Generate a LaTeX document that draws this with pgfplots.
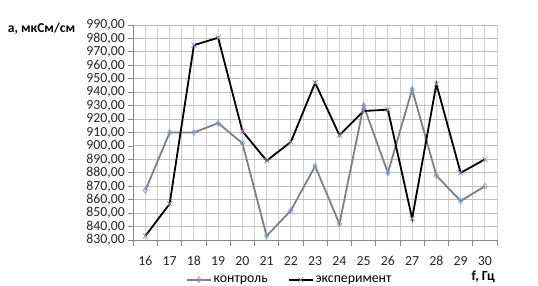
\documentclass[border=0pt]{standalone}
\usepackage{pgfplots}
\pgfplotsset{compat=1.18}
\usepackage{fontspec}
\setmainfont{Carlito}
\definecolor{gridc}{HTML}{D0D0D0}
\definecolor{axisc}{HTML}{868686}
\definecolor{ctrl}{HTML}{808080}
\definecolor{ctrlmk}{HTML}{7EA6D6}
\definecolor{expmk}{HTML}{9B88BF}
\begin{document}
\begin{tikzpicture}[x=1pt,y=1pt]
\useasboundingbox (0,0) rectangle (538,286);
\begin{axis}[
  at={(133.3pt,46pt)}, anchor=south west,
  scale only axis, width=363.7pt, height=215pt,
  xmin=15.5, xmax=30.5, ymin=830, ymax=990,
  axis x line*=bottom, axis y line*=left,
  axis line style={axisc, line width=0.8pt},
  xtick={16,...,30},
  minor xtick={15.5,16.5,...,30.5},
  ytick={830,840,...,990},
  major x tick style={draw=none},
  minor x tick style={axisc, line width=0.8pt},
  minor tick length=6.5pt,
  major tick length=5pt,
  tick align=outside,
  y tick style={axisc, line width=0.8pt},
  xmajorgrids, xminorgrids, ymajorgrids,
  major grid style={gridc, line width=0.9pt},
  minor grid style={gridc, line width=0.9pt},
  y grid style={color=black!25, line width=0.9pt},
  /pgf/number format/assume math mode=true,
  yticklabel style={/pgf/number format/fixed, /pgf/number format/fixed zerofill, /pgf/number format/precision=2, /pgf/number format/use comma, /pgf/number format/1000 sep={}, xshift=0pt},
  xticklabel style={/pgf/number format/1000 sep={}, yshift=-8pt},
  ticklabel style={font=\fontsize{13.8}{15}\selectfont, color=black!85},
  xlabel={\textbf{f, Гц}},
  xlabel style={at={(rel axis cs:1,0)}, anchor=east, yshift=-37pt, xshift=1.5pt, font=\fontsize{13.8}{15}\selectfont},
  ylabel={\textbf{а, мкСм/см}},
  ylabel style={rotate=-90, at={(rel axis cs:0,1)}, anchor=west, xshift=-129pt, yshift=-4pt, font=\fontsize{13.5}{15}\selectfont},
  legend columns=2,
  legend style={draw=none, fill=none, at={(rel axis cs:0.43,-0.185)}, anchor=center,
    font=\fontsize{13.8}{15}\selectfont, inner sep=0pt,
    /tikz/every even column/.append style={column sep=18pt}},
  legend cell align=left,
  legend image code/.code={\draw[mark repeat=2,mark phase=2] plot coordinates {(0pt,0pt) (12pt,0pt) (24pt,0pt)};},
]
\addplot[ctrl, line width=1.8pt, mark=diamond, mark size=3pt, mark options={draw=ctrlmk, fill=white, line width=0.7pt}]
coordinates {(16,867) (17,910) (18,910) (19,917) (20,902) (21,833) (22,852) (23,885) (24,842) (25,930) (26,880) (27,942) (28,878) (29,859) (30,870)};
\addlegendentry{контроль}
\addplot[black, line width=1.8pt, mark=x, mark size=3.5pt, mark options={draw=expmk, line width=0.7pt}]
coordinates {(16,833) (17,857) (18,975) (19,980.5) (20,911) (21,889) (22,903) (23,947) (24,908) (25,926) (26,927) (27,846) (28,946) (29,880) (30,890)};
\addlegendentry{эксперимент}
\end{axis}
\end{tikzpicture}
\end{document}
